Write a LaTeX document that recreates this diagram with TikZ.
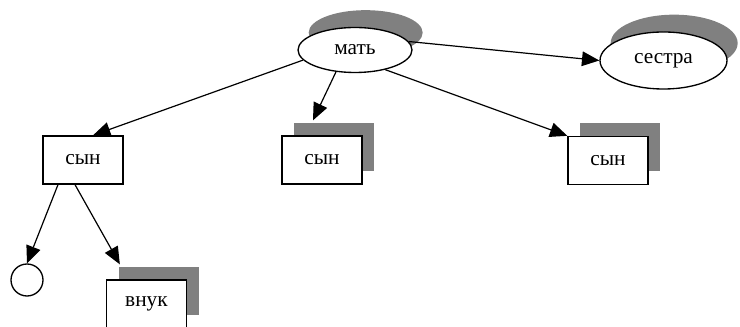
\documentclass[tikz,border=0pt]{standalone}
\usepackage{fontspec}
\setmainfont{Liberation Serif}
\usetikzlibrary{arrows.meta, shapes.geometric, shadows}

\tikzset{
    person/.style={draw, line width=1pt, fill=white, inner sep=0pt, font=\fontsize{16}{19}\selectfont},
    kinbox/.style={person, rectangle, minimum width=60pt, minimum height=36pt},
    kinoval/.style={person, ellipse},
    boxshadow/.style={general shadow={shadow xshift=9pt, shadow yshift=9.75pt, fill=gray}},
    ovalshadow/.style={general shadow={shadow xshift=8pt, shadow yshift=13pt, fill=gray}},
    link/.style={-{Triangle[length=13pt, width=11pt]}, line width=0.9pt}
}

\begin{document}
\begin{tikzpicture}[x=0.75pt, y=-0.75pt]
    \useasboundingbox (0,0) rectangle (740,327);

    % Top row
    \node[kinoval, ovalshadow, minimum width=85.5pt, minimum height=33.75pt] (mat) at (355,50) {мать};
    \node[kinoval, ovalshadow, minimum width=95.25pt, minimum height=42.75pt] (ses) at (663.5,60.5) {сестра};

    % Sons
    \node[kinbox] (son1) at (83,160) {сын};
    \node[kinbox, boxshadow] (son2) at (322,160) {сын};
    \node[kinbox, boxshadow] (son3) at (608,160.5) {сын};

    % Grandchildren
    \node[person, circle, minimum size=24pt] (circ) at (27,280) {};
    \node[kinbox, boxshadow] (vnuk) at (146.5,304) {внук};

    % Links from mother
    \draw[link] (mat.191) -- ([shift={(10,0)}]son1.north);
    \draw[link] (mat.229) -- ([shift={(-9,-15)}]son2.north);
    \draw[link] (mat.327) -- (son3.north west);
    \draw[link] (mat.9) -- (ses.west);

    % Links from the first son
    \draw[link] ([shift={(-25,0)}]son1.south) -- (circ.north);
    \draw[link] ([shift={(-8,0)}]son1.south) -- ([shift={(14,-15)}]vnuk.north west);
\end{tikzpicture}
\end{document}
